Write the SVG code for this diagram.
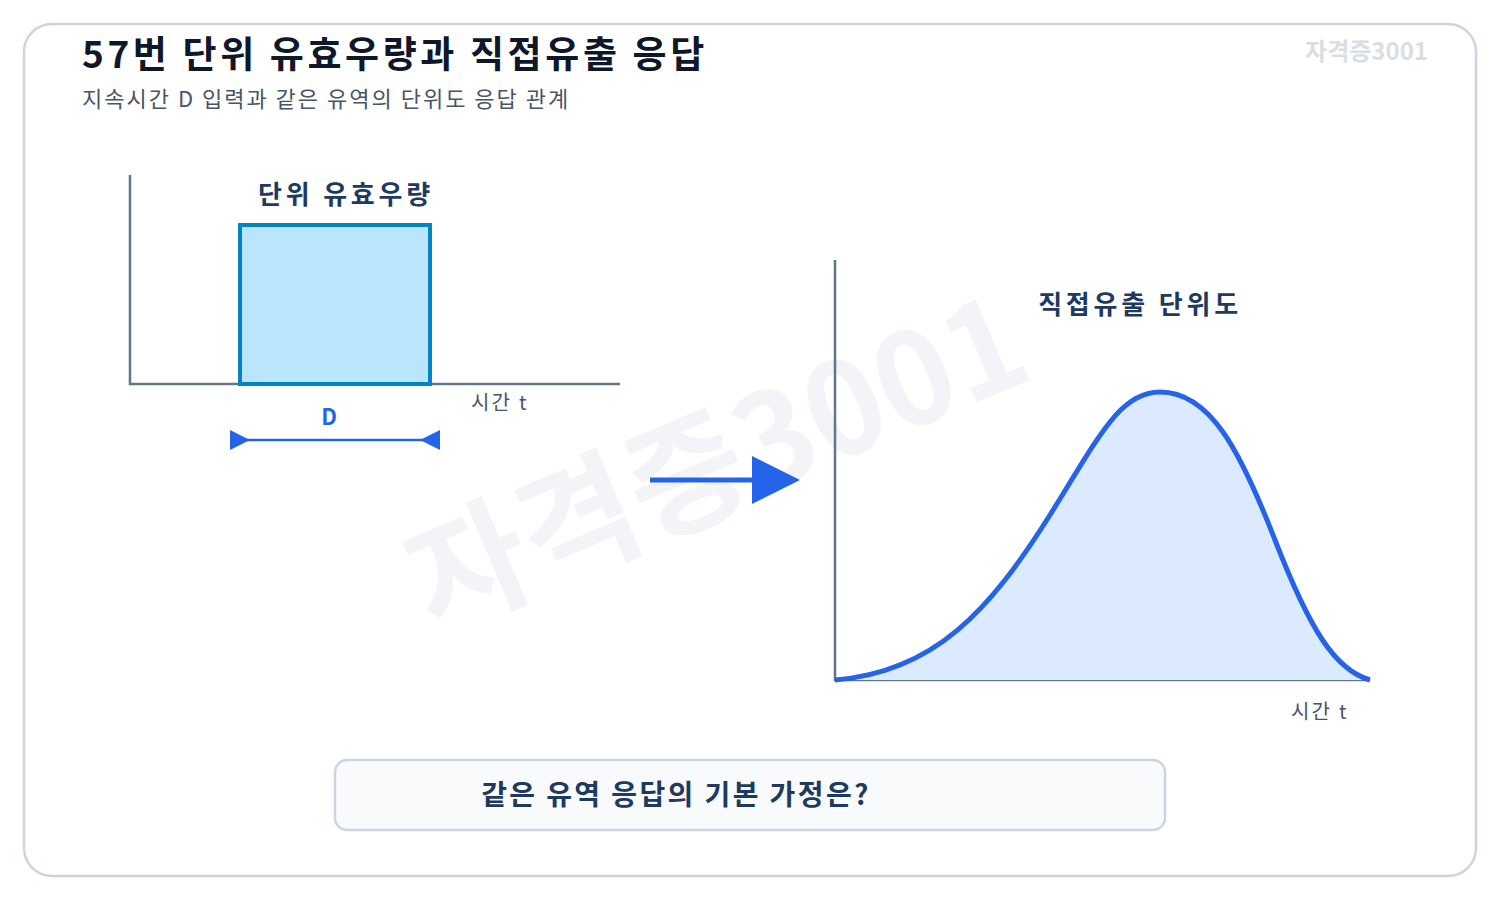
<svg xmlns="http://www.w3.org/2000/svg" width="1500" height="900" viewBox="0 0 1500 900">
<defs>
<style>
.kr{font-family:"Noto Sans CJK KR","Noto Sans",sans-serif}
.axis{stroke:#64748b;stroke-width:2.5;fill:none}
.lbl{font-size:26px;font-weight:700;fill:#1e3a5f;letter-spacing:3.8px}
.tl{font-size:20px;fill:#475569;letter-spacing:2.2px}
</style>
</defs>
<rect x="0" y="0" width="1500" height="900" fill="#ffffff"/>
<rect x="24" y="24" width="1452" height="852" rx="28" fill="#ffffff" stroke="#cbd5e1" stroke-width="2.5"/>
<text x="735" y="505" class="kr" font-size="128" font-weight="700" fill="#f2f4f7" text-anchor="middle" transform="rotate(-23 735 505)">자격증3001</text>
<text x="1428" y="60" class="kr" font-size="24" font-weight="700" fill="#d9dee5" text-anchor="end">자격증3001</text>
<text x="82" y="68" class="kr" font-size="37" font-weight="700" fill="#0f172a" letter-spacing="3.6">57번 단위 유효우량과 직접유출 응답</text>
<text x="82" y="107" class="kr" font-size="22" fill="#475569" letter-spacing="2">지속시간 D 입력과 같은 유역의 단위도 응답 관계</text>

<g id="input-chart">
<path class="axis" d="M130,175 L130,384 L620,384"/>
<rect x="240" y="225" width="190" height="159" fill="#bae6fd" stroke="#0284c7" stroke-width="4"/>
<text x="346" y="204" class="kr lbl" text-anchor="middle">단위 유효우량</text>
<text x="471" y="410" class="kr tl">시간 t</text>
<text x="329" y="425" class="kr" font-size="22" font-weight="700" fill="#2563eb" text-anchor="middle">D</text>
<line x1="240" y1="440" x2="430" y2="440" stroke="#2563eb" stroke-width="2.5"/>
<path d="M230,430 L250,440 L230,450 Z" fill="#2563eb"/>
<path d="M440,430 L420,440 L440,450 Z" fill="#2563eb"/>
</g>

<g id="connectors">
<line x1="650" y1="480" x2="760" y2="480" stroke="#2563eb" stroke-width="5"/>
<path d="M752,456 L800,480 L752,504 Z" fill="#2563eb"/>
</g>

<g id="output-chart">
<path class="axis" d="M835,260 L835,680 L1370,680"/>
<path d="M835,680 C935,672 990,610 1050,515 C1100,435 1120,392 1160,392 C1210,392 1240,450 1275,540 C1310,630 1335,670 1370,680 Z" fill="#dbeafe"/>
<path d="M835,680 C935,672 990,610 1050,515 C1100,435 1120,392 1160,392 C1210,392 1240,450 1275,540 C1310,630 1335,670 1370,680" fill="none" stroke="#2563eb" stroke-width="5"/>
<text x="1140" y="314" class="kr lbl" text-anchor="middle">직접유출 단위도</text>
<text x="1291" y="719" class="kr tl">시간 t</text>
</g>

<g id="question">
<rect x="335" y="760" width="830" height="70" rx="12" fill="#f8fafc" stroke="#cbd5e1" stroke-width="2.5"/>
<text x="676" y="805" class="kr" font-size="28" font-weight="700" fill="#1e3a5f" text-anchor="middle" letter-spacing="2.4">같은 유역 응답의 기본 가정은?</text>
</g>
</svg>
